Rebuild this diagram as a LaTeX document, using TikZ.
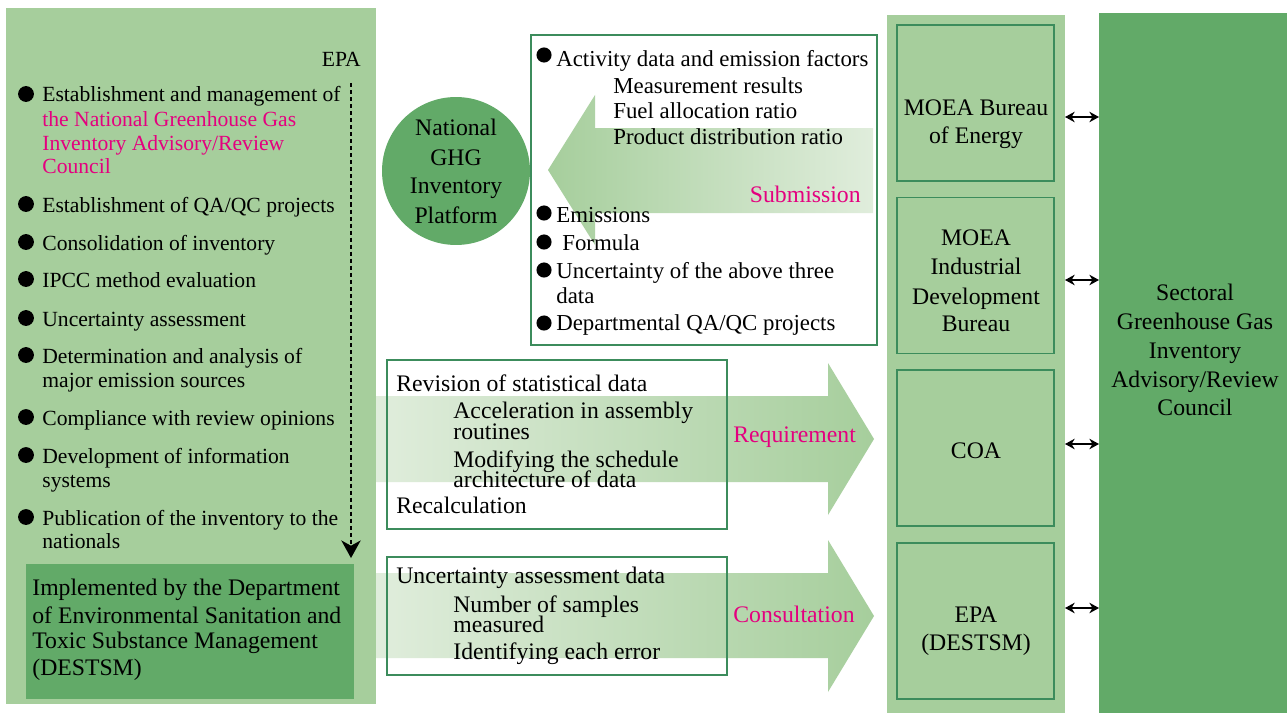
\documentclass[tikz,border=0pt]{standalone}
\usepackage{fontspec}
\setmainfont{Liberation Serif}
\usetikzlibrary{arrows.meta,calc,positioning}

\definecolor{lightgreen}{HTML}{A6CE9C}
\definecolor{darkgreen}{HTML}{62AA68}
\definecolor{boxgreen}{HTML}{3C8C5C}
\definecolor{palegreen}{HTML}{E0EDDC}
\definecolor{pinkred}{HTML}{E4007F}

\begin{document}
\begin{tikzpicture}
    [x=0.02cm, y=-0.02cm,
    ltxt/.style = {anchor=base west, inner sep=0pt, font=\fontsize{12.3}{14}\selectfont},
    btxt/.style = {anchor=base west, inner sep=0pt, font=\fontsize{13}{15}\selectfont},
    rtxt/.style = {anchor=base west, inner sep=0pt, font=\fontsize{13.5}{16}\selectfont},
    ctxt/.style = {anchor=base, inner sep=0pt, font=\fontsize{13.5}{16}\selectfont},
    hilite/.style = {text=pinkred},
    orgbox/.style = {draw=boxgreen, line width=1.1pt, fill=lightgreen, inner sep=0pt,
      minimum width=3.14cm, minimum height=3.12cm},
    framebox/.style = {draw=boxgreen, line width=1.1pt, inner sep=0pt, anchor=north west},
    darkbox/.style = {fill=darkgreen, inner sep=0pt, anchor=north west},
    link/.style = {<->, line width=0.8pt, >={Stealth[length=5.5pt,width=6pt]}},
    flow/.style = {->, line width=1pt, dash pattern=on 2.3pt off 1.7pt,
      >={Stealth[length=10pt,width=11pt,inset=3pt]}}]

  \useasboundingbox (0,0) rectangle (1287,713);
  \fill[white] (0,0) rectangle (1287,713);

  \fill[lightgreen] (6,8) rectangle (376,704);
  \fill[lightgreen] (887,15) rectangle (1065,713);

  \node[darkbox, minimum width=3.76cm, minimum height=14cm] (council) at (1099,13) {};
  \node[darkbox, minimum width=6.56cm, minimum height=2.7cm] (destsm) at (26,564) {};
  \node[circle, fill=darkgreen, inner sep=0pt, minimum size=2.96cm] (platform) at (456,171) {};

  \node[orgbox] (boe) at (975.5,103) {};
  \node[orgbox] (idb) at (975.5,275.5) {};
  \node[orgbox] (coa) at (975.5,448) {};
  \node[orgbox] (epad) at (975.5,621) {};

  \shade[left color=lightgreen, right color=palegreen]
    (548,170) -- (595,95) -- (595,128) -- (873,128) -- (873,213) -- (595,213) -- (595,245) -- cycle;
  \shade[left color=palegreen, right color=lightgreen]
    (376,396) -- (828,396) -- (828,363) -- (874,439) -- (828,515) -- (828,482) -- (376,482) -- cycle;
  \shade[left color=palegreen, right color=lightgreen]
    (376,573) -- (828,573) -- (828,540) -- (874,616) -- (828,692) -- (828,658) -- (376,658) -- cycle;

  \node[framebox, minimum width=6.92cm, minimum height=6.2cm] (subbox) at (530,34) {};
  \node[framebox, minimum width=6.8cm, minimum height=3.38cm] (reqbox) at (386,359) {};
  \node[framebox, minimum width=6.8cm, minimum height=2.36cm] (conbox) at (386,556) {};

  \node[ltxt, anchor=base east] (epa) at (361,67) {EPA};
  \node[ltxt] (l1) at (42,102) {Establishment and management of};
  \node[ltxt, hilite] (l1a) at (42,126) {the National Greenhouse Gas};
  \node[ltxt, hilite] (l1b) at (42,150) {Inventory Advisory/Review};
  \node[ltxt, hilite] (l1c) at (42,173) {Council};
  \node[ltxt] (l2) at (42,212) {Establishment of QA/QC projects};
  \node[ltxt] (l3) at (42,250) {Consolidation of inventory};
  \node[ltxt] (l4) at (42,287) {IPCC method evaluation};
  \node[ltxt] (l5) at (42,326) {Uncertainty assessment};
  \node[ltxt] (l6) at (42,363) {Determination and analysis of};
  \node[ltxt] (l6a) at (42,387) {major emission sources};
  \node[ltxt] (l7) at (42,425) {Compliance with review opinions};
  \node[ltxt] (l8) at (42,463) {Development of information};
  \node[ltxt] (l8a) at (42,487) {systems};
  \node[ltxt] (l9) at (42,525) {Publication of the inventory to the};
  \node[ltxt] (l9a) at (42,548) {nationals};
  \foreach \y in {94,204,242,279,318,355,417,455,517}
    \fill (26,\y) circle[radius=4.5pt];

  \node[rtxt] (d1) at (32,595) {Implemented by the Department};
  \node[rtxt] (d2) at (32,623) {of Environmental Sanitation and};
  \node[rtxt] (d3) at (32,648) {Toxic Substance Management};
  \node[rtxt] (d4) at (32,675) {(DESTSM)};

  \coordinate (dtop) at (351,83);
  \draw[flow, shorten >=3.4pt] (dtop) -- (dtop |- destsm.north);

  \node[ctxt] (p1) at (456,135) {National};
  \node[ctxt] (p2) at (456,165) {GHG};
  \node[ctxt] (p3) at (456,193) {Inventory};
  \node[ctxt] (p4) at (456,223) {Platform};

  \node[btxt] (s1) at (556,67) {Activity data and emission factors};
  \node[btxt] (s1a) at (613,93) {Measurement results};
  \node[btxt] (s1b) at (613,118) {Fuel allocation ratio};
  \node[btxt] (s1c) at (613,144) {Product distribution ratio};
  \node[btxt] (s2) at (556,222) {Emissions};
  \node[btxt] (s3) at (562,250) {Formula};
  \node[btxt] (s4) at (556,278) {Uncertainty of the above three};
  \node[btxt] (s4a) at (556,303) {data};
  \node[btxt] (s5) at (556,330) {Departmental QA/QC projects};
  \foreach \y in {55,213,242,270,323}
    \fill (544,\y) circle[radius=4.3pt];
  \node[ctxt, hilite, anchor=base east] (submit) at (861,202) {Submission};

  \node[rtxt] (r1) at (396,391) {Revision of statistical data};
  \node[rtxt] (r1a) at (453,418) {Acceleration in assembly};
  \node[rtxt] (r1b) at (453,439) {routines};
  \node[rtxt] (r1c) at (453,467) {Modifying the schedule};
  \node[rtxt] (r1d) at (453,487) {architecture of data};
  \node[rtxt] (r2) at (396,513) {Recalculation};
  \node[rtxt, hilite] (require) at (733,442) {Requirement};

  \node[rtxt] (u1) at (396,583) {Uncertainty assessment data};
  \node[rtxt] (u1a) at (453,612) {Number of samples};
  \node[rtxt] (u1b) at (453,632) {measured};
  \node[rtxt] (u1c) at (453,659) {Identifying each error};
  \node[rtxt, hilite] (consult) at (733,622) {Consultation};

  \node[ctxt] (boe1) at (976,115) {MOEA Bureau};
  \node[ctxt] (boe2) at (976,143) {of Energy};
  \node[ctxt] (idb1) at (976,245) {MOEA};
  \node[ctxt] (idb2) at (976,274) {Industrial};
  \node[ctxt] (idb3) at (976,304) {Development};
  \node[ctxt] (idb4) at (976,331) {Bureau};
  \node[ctxt] (coa1) at (976,458) {COA};
  \node[ctxt] (epad1) at (976,622) {EPA};
  \node[ctxt] (epad2) at (976,650) {(DESTSM)};

  \node[ctxt] (c1) at (1195,300) {Sectoral};
  \node[ctxt] (c2) at (1195,329) {Greenhouse Gas};
  \node[ctxt] (c3) at (1195,358) {Inventory};
  \node[ctxt] (c4) at (1195,387) {Advisory/Review};
  \node[ctxt] (c5) at (1195,415) {Council};

  \coordinate (a1) at (1065,117);
  \coordinate (a2) at (1065,280);
  \coordinate (a3) at (1065,444);
  \coordinate (a4) at (1065,608);
  \draw[link] (a1) -- (a1 -| council.west);
  \draw[link] (a2) -- (a2 -| council.west);
  \draw[link] (a3) -- (a3 -| council.west);
  \draw[link] (a4) -- (a4 -| council.west);

\end{tikzpicture}
\end{document}
